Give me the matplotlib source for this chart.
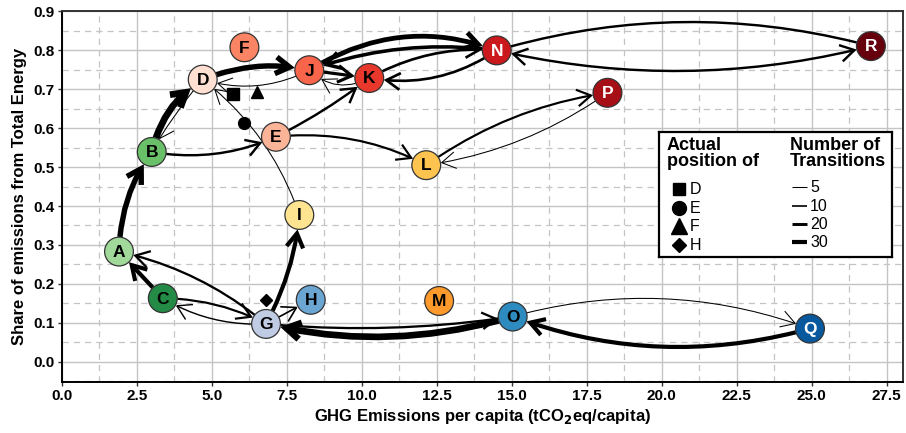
import matplotlib
matplotlib.use("Agg")
import matplotlib.pyplot as plt
from matplotlib.patches import FancyArrowPatch
import numpy as np

# ---------------- data ----------------
node_labels = ["A", "B", "C", "D", "E", "F", "G", "H", "I",
               "J", "K", "L", "M", "N", "O", "P", "Q", "R"]
node_x = [1.91, 3.00, 3.37, 4.70, 7.14, 6.09, 6.81, 8.30, 7.92,
          8.25, 10.25, 12.15, 12.58, 14.50, 15.03, 18.19, 24.94, 26.97]
node_y = [0.283, 0.539, 0.163, 0.725, 0.578, 0.808, 0.097, 0.159, 0.377,
          0.749, 0.729, 0.505, 0.156, 0.800, 0.116, 0.691, 0.085, 0.811]
node_colors = ["#a1d99b", "#6abf69", "#238b45", "#fee0d2", "#fcb499", "#fa8464",
               "#c0cce4", "#6ba5d2", "#fee391", "#f9654a", "#e8382b", "#fec44f",
               "#fd9a2b", "#cb181d", "#2e8bc0", "#a50f15", "#08589e", "#67000d"]
white_text = ["N", "P", "Q", "R"]

# actual positions of D, E, F, H
actual_labels = ["D", "E", "F", "H"]
actual_x = [5.70, 6.09, 6.50, 6.81]
actual_y = [0.687, 0.614, 0.693, 0.159]
actual_markers = ["s", "o", "^", "D"]

# transitions: source, target, count
edge_src = ["A", "B", "D", "B", "D", "J", "I", "E", "E", "L", "P", "J", "K",
            "J", "N", "K", "N", "N", "N", "G", "C", "C", "G", "G", "G", "G",
            "O", "O", "Q"]
edge_dst = ["B", "D", "B", "E", "J", "D", "D", "K", "L", "P", "L", "K", "J",
            "N", "J", "N", "K", "R", "R", "A", "A", "G", "C", "I", "H", "O",
            "G", "Q", "O"]
edge_count = [40, 50, 5, 16, 40, 5, 5, 16, 14, 14, 5, 22, 5,
              35, 25, 18, 18, 16, 16, 15, 30, 14, 8, 30, 10, 15,
              50, 5, 30]
# curvature (style)
edge_rad = [-0.15, -0.2, 0.05, 0.15, -0.15, -0.2, 0.15, 0.05, -0.15, -0.12, -0.12, 0.0, -0.35,
            -0.24, 0.12, -0.15, -0.2, -0.14, 0.12, 0.12, 0.0, -0.12, -0.15, 0.1, 0.0, 0.06,
            -0.13, -0.16, -0.16]
edge_style = ["->"] * len(edge_src)
edge_style[17] = "-"
edge_style[18] = "<->"

legend_counts = [5, 10, 20, 30]

# ---------------- figure ----------------
W, H = 906, 433
fig = plt.figure(figsize=(W / 100, H / 100), dpi=100)
ax = fig.add_axes([61.7 / W, 1 - 382.3 / H, (903.3 - 61.7) / W, (382.3 - 10.7) / H])
ax.set_xlim(0, 28.05)
ax.set_ylim(-0.053, 0.902)

tick_font = dict(family=["Liberation Sans Narrow", "Liberation Sans", "DejaVu Sans"],
                 weight="bold", size=11)
ax.set_xticks(np.arange(0, 27.6, 2.5))
ax.set_xticklabels([f"{v:.1f}" for v in np.arange(0, 27.6, 2.5)], fontdict=tick_font)
ax.set_yticks(np.arange(0, 0.91, 0.1))
ax.set_yticklabels([f"{v:.1f}" for v in np.arange(0, 0.91, 0.1)], fontdict=tick_font)
ax.set_xticks(np.arange(1.25, 28, 2.5), minor=True)
ax.set_yticks(np.arange(-0.05, 0.9, 0.1), minor=True)
ax.tick_params(axis="both", which="major", length=3, width=1, color="#333333", pad=2)
ax.tick_params(axis="both", which="minor", length=0)
ax.grid(True, which="major", color="#c4c4c4", lw=1.0, zorder=0)
ax.grid(True, which="minor", color="#c4c4c4", lw=0.9, ls=(0, (5, 4)), zorder=0)
ax.set_axisbelow(True)
for s in ax.spines.values():
    s.set_linewidth(1.4)
    s.set_color("#333333")
ax.spines["left"].set_color("black")
ax.spines["bottom"].set_color("black")

lab_font = dict(family=["Liberation Sans", "DejaVu Sans"], weight="bold", size=12)
ax.set_xlabel("GHG Emissions per capita (tCO$_\\mathbf{2}$eq/capita)", fontdict=lab_font, labelpad=3)
ax.set_ylabel("Share of emissions from Total Energy", fontdict=lab_font, labelpad=5)


def lw_of(c):
    return 0.3 + 0.09 * c


pos = {n: (x, y) for n, x, y in zip(node_labels, node_x, node_y)}

for s, d, c, r, st in zip(edge_src, edge_dst, edge_count, edge_rad, edge_style):
    lw = lw_of(c)
    if st == "-":
        astyle = "-"
    else:
        astyle = f"{st},head_length=1.0,head_width=0.6"
    arr = FancyArrowPatch(pos[s], pos[d], arrowstyle=astyle,
                          connectionstyle=f"arc3,rad={r}",
                          mutation_scale=10, lw=lw, color="black",
                          shrinkA=10.5, shrinkB=10.5, zorder=3,
                          capstyle="butt", joinstyle="miter")
    ax.add_patch(arr)

ax.scatter(node_x, node_y, s=430, c=node_colors, edgecolors="#333333",
           linewidths=0.9, zorder=5)
for n, x, y in zip(node_labels, node_x, node_y):
    ax.text(x, y - 0.002, n, ha="center", va="center", zorder=6,
            color="white" if n in white_text else "black",
            fontsize=12.5, fontweight="bold", family=["Liberation Sans", "DejaVu Sans"])

msizes = {"s": 8, "o": 8.5, "^": 9, "D": 6}
for x, y, m in zip(actual_x, actual_y, actual_markers):
    ax.plot(x, y, marker=m, ms=msizes[m], color="black", ls="none", zorder=4)

# ---------------- legend ----------------
lx0, ly0, lx1, ly1 = 659, 131.7, 892, 257
lax = fig.add_axes([lx0 / W, 1 - ly1 / H, (lx1 - lx0) / W, (ly1 - ly0) / H])
lax.set_xlim(lx0, lx1)
lax.set_ylim(ly1, ly0)
lax.set_xticks([])
lax.set_yticks([])
for s in lax.spines.values():
    s.set_linewidth(1.6)
    s.set_color("black")
lax.set_zorder(10)

tfont = dict(family=["Liberation Sans", "DejaVu Sans"], weight="bold", size=13)
lax.text(667, 137, "Actual\nposition of", va="top", ha="left", linespacing=0.95, **tfont)
lax.text(790, 137, "Number of\nTransitions", va="top", ha="left", linespacing=0.95, **tfont)
efont = dict(family=["Liberation Sans", "DejaVu Sans"], size=11.5)
leg_y = [189, 208, 226, 245]
lmsizes = {"s": 9, "o": 10, "^": 11, "D": 7}
for lab, m, y in zip(actual_labels, actual_markers, leg_y):
    lax.plot(679, y, marker=m, ms=lmsizes[m], color="black", ls="none")
    lax.text(690, y + 0.5, lab, va="center", ha="left", **efont)
cnt_y = [187.5, 205.7, 224, 241.7]
for c, y in zip(legend_counts, cnt_y):
    lax.plot([792, 807], [y, y], color="black", lw=lw_of(c), solid_capstyle="butt")
    lax.text(810, y + 0.5, str(c), va="center", ha="left", **efont)

fig.savefig("out.png", dpi=100)
